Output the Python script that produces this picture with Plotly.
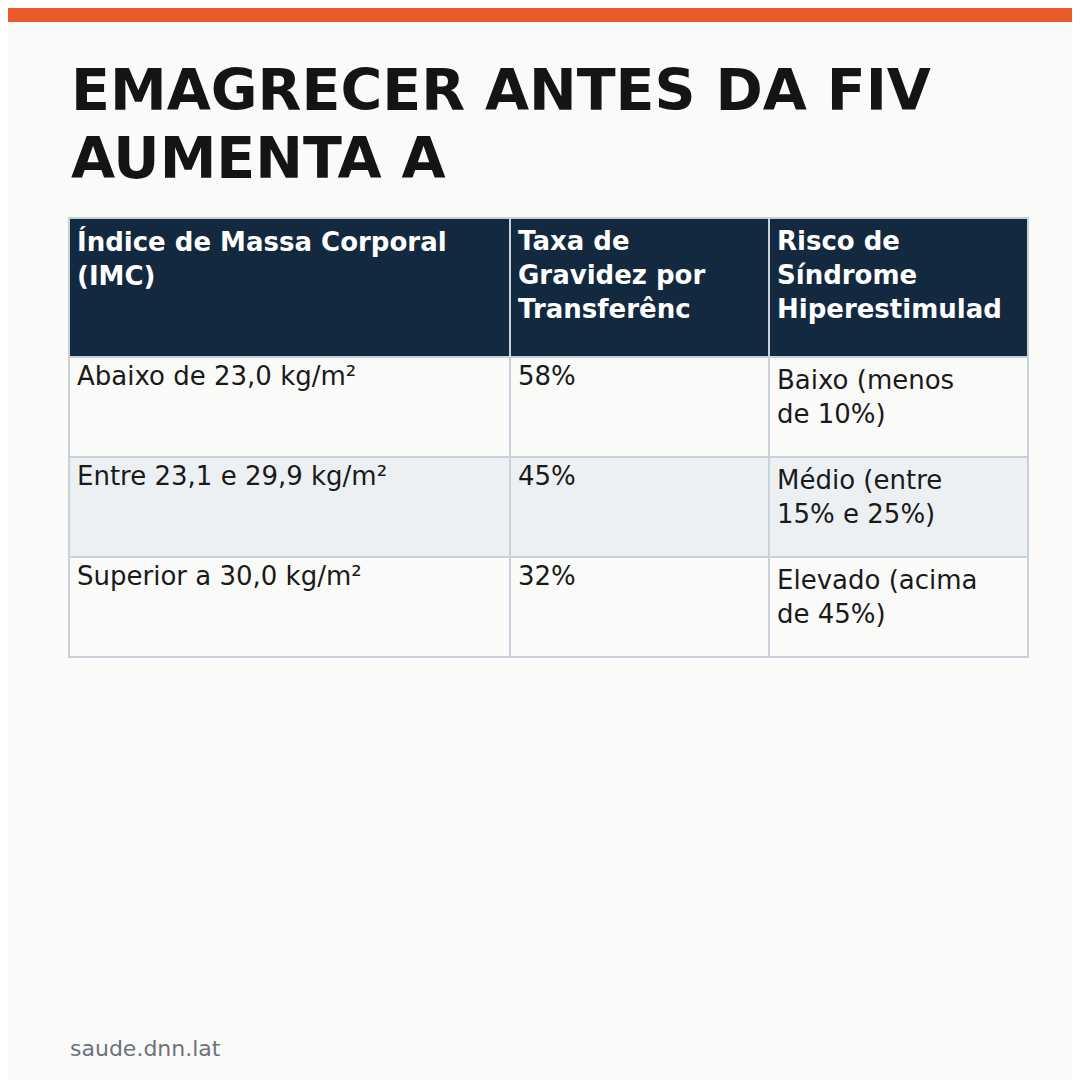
import plotly.graph_objects as go

title_lines = ["EMAGRECER ANTES DA FIV", "AUMENTA A"]
headers = ["Índice de Massa Corporal<br>(IMC)", "Taxa de<br>Gravidez por<br>Transferênc", "Risco de<br>Síndrome<br>Hiperestimulad"]
col_imc = ["Abaixo de 23,0 kg/m²", "Entre 23,1 e 29,9 kg/m²", "Superior a 30,0 kg/m²"]
col_taxa = ["58%", "45%", "32%"]
col_risco = ["Baixo (menos<br>de 10%)", "Médio (entre<br>15% e 25%)", "Elevado (acima<br>de 45%)"]
source = "saude.dnn.lat"

W = H = 1080
BG = "#FAFAF8"
font = "DejaVu Sans"

fig = go.Figure()
fig.add_trace(go.Table(
    domain=dict(x=[61 / W, 1020 / W], y=[0, 1 - 210 / H]),
    columnwidth=[441, 259, 259],
    header=dict(
        values=[f"<b>{h}</b>" for h in headers],
        fill_color="#12293F",
        line=dict(color="#C8D0DA", width=1.5),
        font=dict(family=font, size=26, color="white"),
        align="left",
        height=139,
    ),
    cells=dict(
        values=[col_imc, col_taxa, col_risco],
        fill_color=[[BG, "#EDF0F3", BG]] * 3,
        line=dict(color="#C8D0DA", width=1.5),
        font=dict(family=font, size=26, color="#1a1a1a"),
        align="left",
        height=100,
    ),
))

fig.add_shape(type="rect", xref="paper", yref="paper", x0=0, x1=1, y0=1 - 14 / H, y1=1,
              fillcolor="#E95B2B", line_width=0)

for i, line in enumerate(title_lines):
    fig.add_annotation(xref="paper", yref="paper", x=61 / W, y=1 - (82 + 68 * i) / H,
                       xanchor="left", yanchor="middle", showarrow=False,
                       text=f"<b>{line}</b>", font=dict(family=font, size=57, color="#141414"))

fig.add_annotation(xref="paper", yref="paper", x=60 / W, y=1 - 1040 / H,
                   xanchor="left", yanchor="middle", showarrow=False,
                   text=source, font=dict(family=font, size=22, color="#6B7280"))

fig.update_layout(width=W, height=H, margin=dict(l=0, r=0, t=0, b=0),
                  paper_bgcolor=BG, plot_bgcolor=BG)

fig.write_html("out.html")
